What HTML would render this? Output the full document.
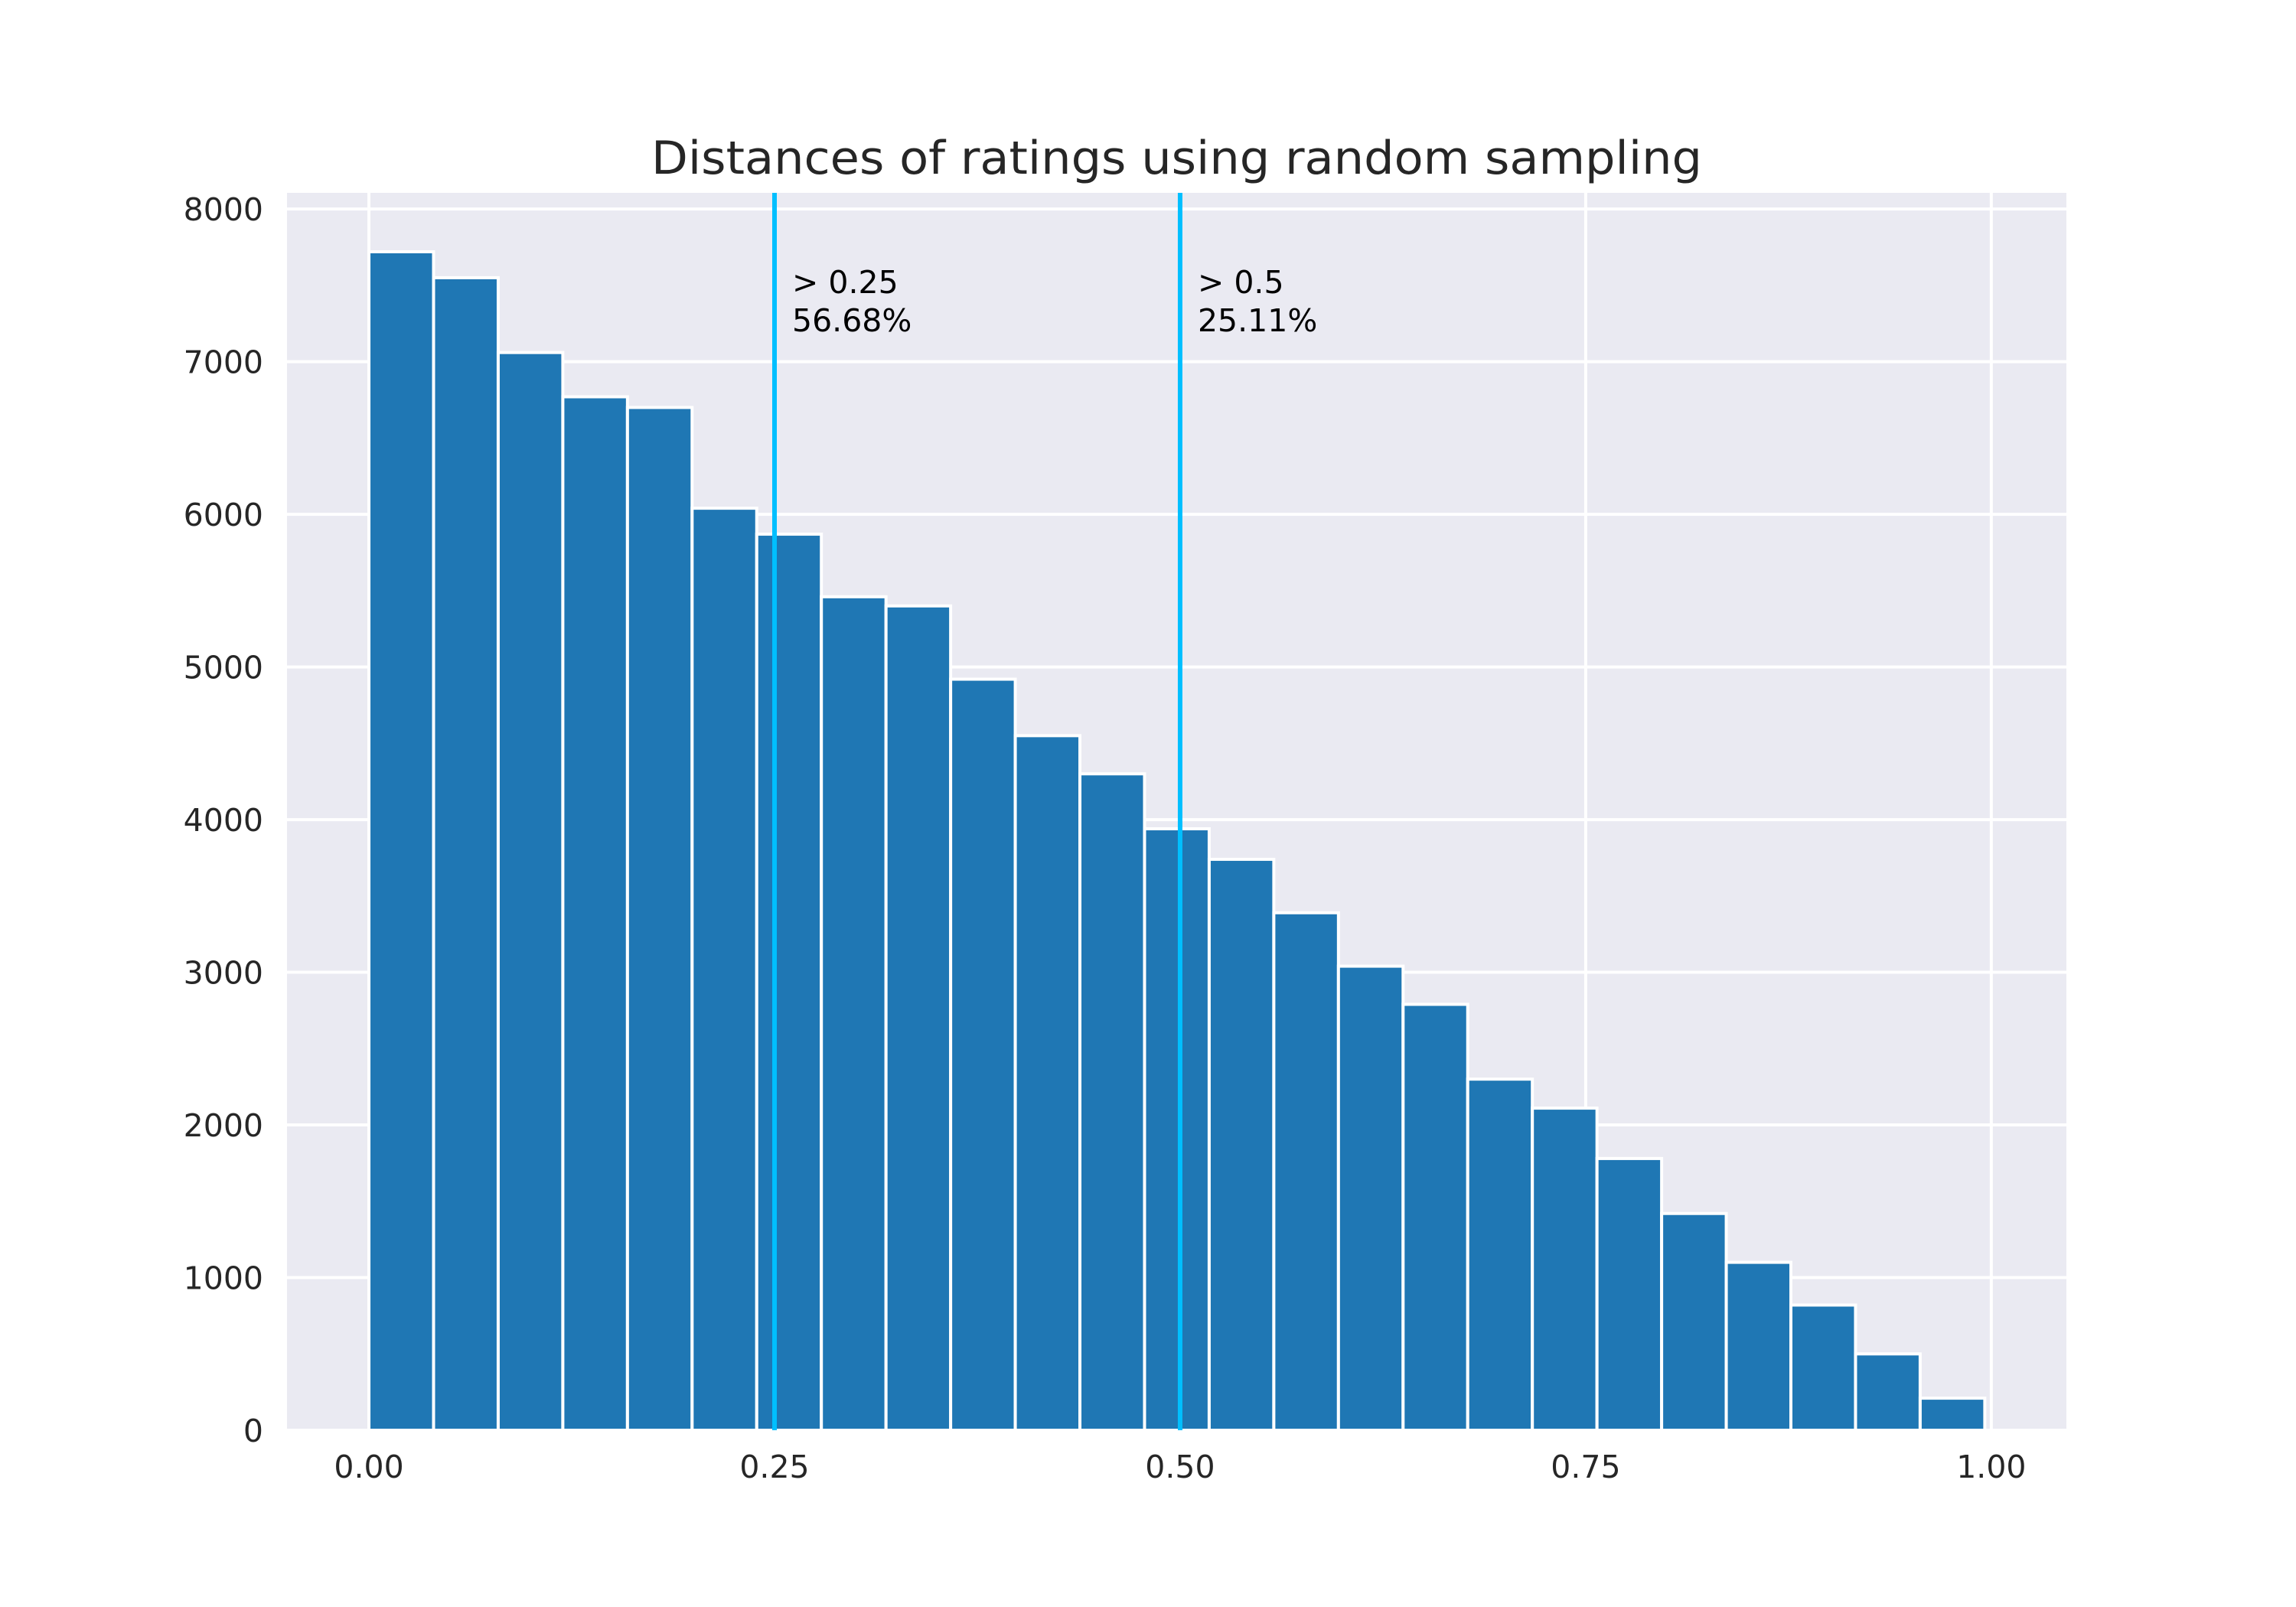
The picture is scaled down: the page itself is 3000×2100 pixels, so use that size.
<!DOCTYPE html>
<html><head><meta charset="utf-8"><style>
html,body{margin:0;padding:0;background:#fff;}
svg{display:block;font-family:"DejaVu Sans","Liberation Sans",sans-serif;}
</style></head><body>
<svg id="chart" width="3000" height="2100" viewBox="0 0 3000 2100" xmlns="http://www.w3.org/2000/svg">
<rect x="0" y="0" width="3000" height="2100" fill="#ffffff"/>
<rect x="375" y="252" width="2325" height="1617" fill="#eaeaf2"/>
<g id="grid"></g>
<g id="bars"></g>
<g id="vlines"></g>
<g id="ticks"></g>
<text x="1537.5" y="227" text-anchor="middle" font-size="60" fill="#262626" textLength="1373" lengthAdjust="spacingAndGlyphs">Distances of ratings using random sampling</text>
</svg>
<script>
const counts = [7720, 7550, 7060, 6770, 6700, 6040, 5870, 5460, 5400, 4920, 4550, 4300, 3940, 3740, 3390, 3040, 2790, 2300, 2110, 1780, 1420, 1100, 820, 500, 210];
const binStart = 0;
const binEnd = 0.996;
const xTicks = [0, 0.25, 0.5, 0.75, 1.0];
const xTickLabels = ["0.00", "0.25", "0.50", "0.75", "1.00"];
const yTicks = [0, 1000, 2000, 3000, 4000, 5000, 6000, 7000, 8000];
const thresholds = [0.25, 0.5];
const thresholdLabels = ["> 0.25", "> 0.5"];
const thresholdPercents = ["56.68%", "25.11%"];

const NS = "http://www.w3.org/2000/svg";
const L = 375, R = 2700, T = 252, B = 1869;
const xMin = binStart - 0.0505, xMax = binEnd + 0.0505*(binEnd/1.0);
function xs(v){ return L + (v - xMin) / (xMax - xMin) * (R - L); }
const yMax = Math.max(...counts) * 1.05;
function ys(v){ return B - v / yMax * (B - T); }
function mk(tag, attrs, parent){ const e = document.createElementNS(NS, tag); for (const k in attrs) e.setAttribute(k, attrs[k]); parent.appendChild(e); return e; }

const grid = document.getElementById('grid');
xTicks.forEach((t) => {
  const l = mk('line', {x1: xs(t), x2: xs(t), y1: T, y2: B, stroke: '#fff', 'stroke-width': 4}, grid);
  
  
});
yTicks.forEach((t) => {
  const l = mk('line', {x1: L, x2: R, y1: ys(t), y2: ys(t), stroke: '#fff', 'stroke-width': 4}, grid);
  
  
});

const bars = document.getElementById('bars');
const bw = (binEnd - binStart) / counts.length;
counts.forEach((c, i) => {
  const x0 = xs(binStart + i*bw), x1 = xs(binStart + (i+1)*bw);
  const r = mk('rect', {x: x0, y: ys(c), width: x1 - x0, height: ys(0) - ys(c), fill: '#1f77b4', stroke: '#fff', 'stroke-width': 4}, bars);
  
  
});

const vl = document.getElementById('vlines');
thresholds.forEach((t, i) => {
  const l = mk('line', {x1: xs(t), x2: xs(t), y1: T, y2: B, stroke: '#00bfff', 'stroke-width': 6}, vl);
  
  
  const a = mk('text', {x: xs(t) + 23, y: 383, 'font-size': 41, fill: '#000'}, vl);
  a.textContent = thresholdLabels[i];
  
  
  const b = mk('text', {x: xs(t) + 23, y: 433, 'font-size': 41, fill: '#000'}, vl);
  b.textContent = thresholdPercents[i];
  
  
});

const tk = document.getElementById('ticks');
xTicks.forEach((t, i) => {
  const e = mk('text', {x: xs(t), y: 1931, 'font-size': 41, fill: '#262626', 'text-anchor': 'middle'}, tk);
  e.textContent = xTickLabels[i];
  
  
});
yTicks.forEach((t) => {
  const e = mk('text', {x: 344, y: ys(t) + 15, 'font-size': 41, fill: '#262626', 'text-anchor': 'end'}, tk);
  e.textContent = String(t);
  
  
});
</script>
</body></html>
